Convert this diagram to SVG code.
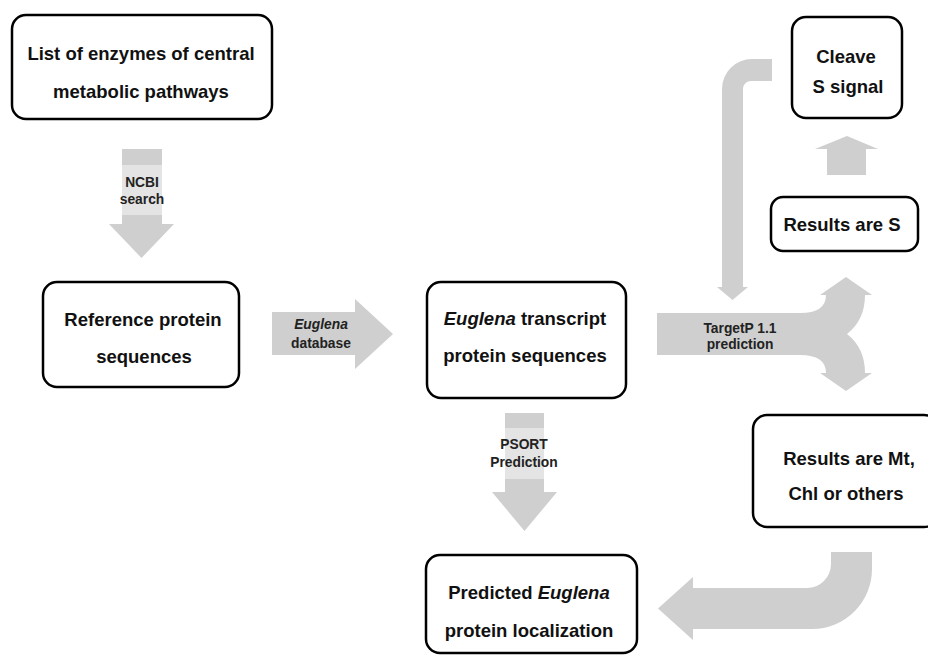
<svg xmlns="http://www.w3.org/2000/svg" width="928" height="655" viewBox="0 0 928 655">
<style>
.box{fill:#fff;stroke:#000;stroke-width:2.5}
.big{font-family:"Liberation Sans",Arial,sans-serif;font-weight:bold;font-size:18.5px;fill:#111;text-anchor:middle}
.lbl{font-family:"Liberation Sans",Arial,sans-serif;font-weight:bold;font-size:13.8px;fill:#222;text-anchor:middle}
.arr{fill:#cfcfcf}
.band{fill:#e4e4e4}
</style>
<rect width="928" height="655" fill="#fff"/>
<g id="connectors">
  <g id="arrow-ncbi">
    <path class="arr" d="M122,149 L162,149 L162,224 L174,224 L141.5,258 L109,224 L122,224 Z"/>
    <rect class="band" x="122" y="165" width="40" height="50"/>
    <text class="lbl" x="142" y="187">NCBI</text>
    <text class="lbl" x="142" y="204">search</text>
  </g>
  <g id="arrow-euglena-db">
    <path class="arr" d="M272,312 L355,312 L355,299 L393,334 L355,369 L355,355 L272,355 Z"/>
    <text class="lbl" x="321" y="329" font-style="italic">Euglena</text>
    <text class="lbl" x="321" y="348">database</text>
  </g>
  <g id="arrow-psort">
    <path class="arr" d="M505,413 L544,413 L544,492 L557,492 L524.5,531 L492,492 L505,492 Z"/>
    <rect class="band" x="505" y="428" width="39" height="51"/>
    <text class="lbl" x="524" y="449">PSORT</text>
    <text class="lbl" x="524" y="467">Prediction</text>
  </g>
  <g id="arrow-loop">
    <path class="arr" d="M772,59 L752,59 A30,30 0 0 0 722,89 L722,287 L717,287 L732.5,300 L748,287 L743,287 L743,89 A8,8 0 0 1 751,81 L772,81 Z"/>
  </g>
  <g id="arrow-targetp">
    <path class="arr" d="M657,313 L800,313 Q826,313 826,295 L820,295 L846,277 L872,295 L865,295 Q865,320 847,334 Q865,348 865,373 L872,373 L846,391 L820,373 L826,373 Q826,355 800,355 L657,355 Z"/>
    <text class="lbl" x="740" y="333">TargetP 1.1</text>
    <text class="lbl" x="740" y="349">prediction</text>
  </g>
  <g id="arrow-s-cleave">
    <path class="arr" d="M827,175 L866,175 L866,149 L878,149 L847,136 L815,149 L827,149 Z"/>
  </g>
  <g id="arrow-mt-predicted">
    <path class="arr" d="M831,552 L872,552 L872,569 A60,60 0 0 1 812,629 L693,629 L693,640 L658,608.5 L693,577 L693,588 L807,588 A24,24 0 0 0 831,564 Z"/>
  </g>
</g>
<g id="node-list">
  <rect class="box" x="12" y="15" width="260" height="104" rx="14"/>
  <text class="big" x="141" y="60">List of enzymes of central</text>
  <text class="big" x="141" y="98">metabolic pathways</text>
</g>
<g id="node-reference">
  <rect class="box" x="43" y="282" width="196" height="105" rx="14"/>
  <text class="big" x="143" y="326">Reference protein</text>
  <text class="big" x="144" y="363">sequences</text>
</g>
<g id="node-transcript">
  <rect class="box" x="427" y="282" width="199" height="116" rx="14"/>
  <text class="big" x="525" y="325"><tspan font-style="italic">Euglena</tspan> transcript</text>
  <text class="big" x="525" y="362">protein sequences</text>
</g>
<g id="node-predicted">
  <rect class="box" x="426" y="555" width="211" height="98" rx="14"/>
  <text class="big" x="529" y="599">Predicted <tspan font-style="italic">Euglena</tspan></text>
  <text class="big" x="529" y="637">protein localization</text>
</g>
<g id="node-results-mt">
  <rect class="box" x="753" y="415" width="185" height="112" rx="14"/>
  <text class="big" x="849" y="465">Results are Mt,</text>
  <text class="big" x="846" y="500">Chl or others</text>
</g>
<g id="node-cleave">
  <rect class="box" x="792" y="17" width="110" height="101" rx="14"/>
  <text class="big" x="846" y="63">Cleave</text>
  <text class="big" x="848" y="93">S signal</text>
</g>
<g id="node-results-s">
  <rect class="box" x="771" y="197" width="147" height="54" rx="12"/>
  <text class="big" x="842" y="231">Results are S</text>
</g>
</svg>
